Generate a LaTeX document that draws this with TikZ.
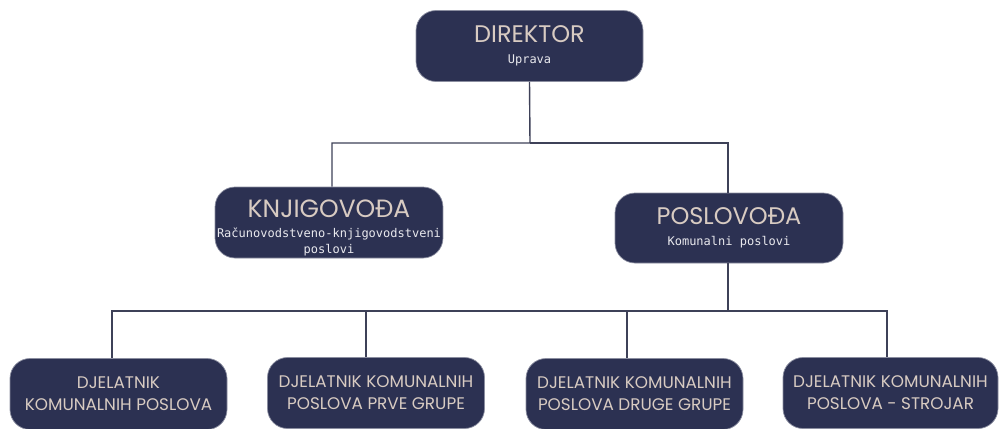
\documentclass[tikz,border=0pt]{standalone}
\usepackage{fontspec}
\setmainfont{Poppins}
\setmonofont{DejaVu Sans Mono}
\usetikzlibrary{positioning}
\definecolor{boxblue}{HTML}{2C3152}
\definecolor{titlebeige}{HTML}{D8CBC2}
\definecolor{subwhite}{HTML}{E9E9EE}
\definecolor{linegray}{HTML}{3E4158}

\begin{document}
\begin{tikzpicture}[x=1pt, y=-1pt,
    box/.style={rectangle, rounded corners=20pt, fill=boxblue, draw=boxblue!55!white, line width=0.7pt,
                minimum width=227pt, minimum height=71pt, align=center, inner sep=2pt, text=titlebeige},
    worker/.style={box, minimum width=217pt, font=\fontsize{16.8}{22}\selectfont},
    link/.style={draw=linegray, line width=1.4pt}]

  \clip (0,0) rectangle (1000,428);

  \node[box] (dir) at (529.5,46)
    {\fontsize{24}{26}\selectfont DIREKTOR\\[9pt]\color{subwhite}\ttfamily\fontsize{12}{14}\selectfont Uprava};
  \node[box, minimum width=226pt] (knj) at (329,222.5)
    {\rule{0pt}{28pt}\fontsize{25}{26}\selectfont KNJIGOVOĐA\\[8pt]\color{subwhite}\ttfamily\fontsize{12}{14}\selectfont Računovodstveno-knjigovodstveni\\[4pt]\color{subwhite}\ttfamily\fontsize{12}{14}\selectfont poslovi};
  \node[box, minimum width=228pt, minimum height=70pt] (pos) at (729,228)
    {\fontsize{24}{26}\selectfont POSLOVOĐA\\[9pt]\color{subwhite}\ttfamily\fontsize{12}{14}\selectfont Komunalni poslovi};

  \node[worker] (w1) at (118.5,394) {DJELATNIK\\KOMUNALNIH POSLOVA};
  \node[worker] (w2) at (376,393) {DJELATNIK KOMUNALNIH\\POSLOVA PRVE GRUPE};
  \node[worker] (w3) at (634.5,394) {DJELATNIK KOMUNALNIH\\POSLOVA DRUGE GRUPE};
  \node[worker, minimum width=215pt] (w4) at (890.5,393) {DJELATNIK KOMUNALNIH\\POSLOVA - STROJAR};

  \coordinate (split) at (530,143);
  \coordinate (bus) at (728,311);

  \draw[link] (dir.south) -- (split) -| ([xshift=3pt]knj.north);
  \draw[link] (split) -| ([xshift=-1pt]pos.north);
  \draw[link] ([xshift=-1pt]pos.south) -- (bus);
  \draw[link] (bus) -| ([xshift=-6.5pt]w1.north);
  \draw[link] (bus) -| ([xshift=-10pt]w2.north);
  \draw[link] (bus) -| ([xshift=-7.5pt]w3.north);
  \draw[link] (bus) -| ([xshift=-3.5pt]w4.north);
\end{tikzpicture}
\end{document}
